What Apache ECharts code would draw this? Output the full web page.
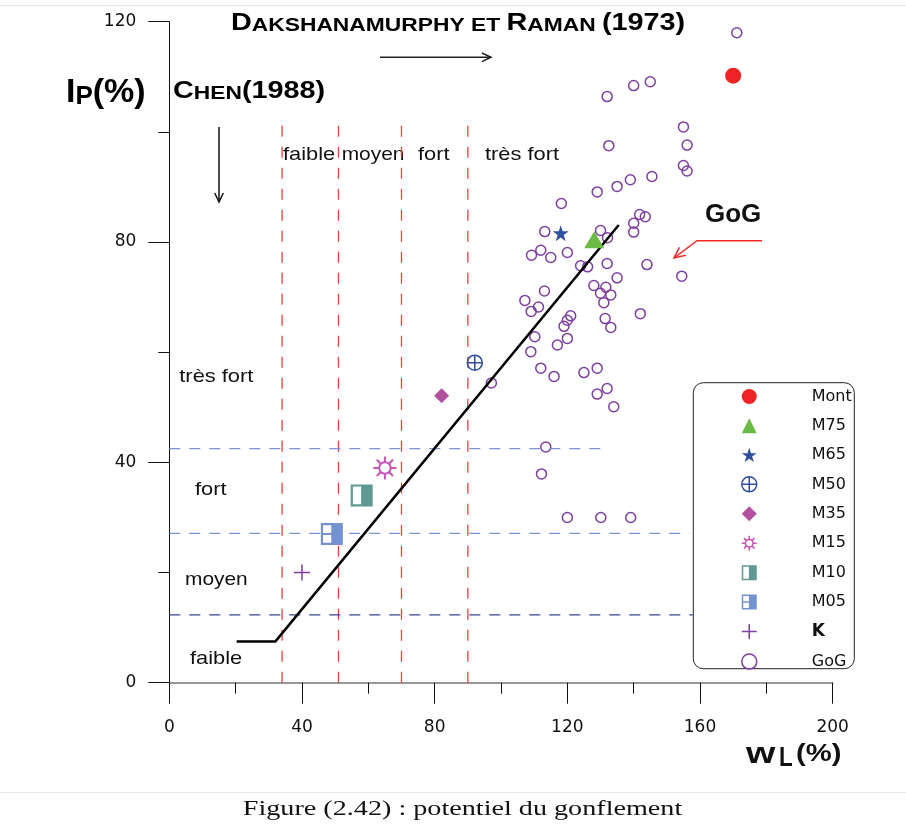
<!DOCTYPE html>
<html>
<head>
<meta charset="utf-8">
<script src="https://cdn.jsdelivr.net/npm/echarts@6.0.0/dist/echarts.min.js"></script>
<style>
html, body { margin: 0; padding: 0; background: #fff; }
#container { width: 906px; height: 836px; }
</style>
</head>
<body>
<div id="container"></div>
<script>
// echantillons (limite de liquidite wL, indice de plasticite Ip)
var sampleNames = ['Mont', 'M75', 'M65', 'M50', 'M35', 'M15', 'M10', 'M05', 'K'];
var sampleWl = [170, 128.1, 118, 92.1, 82.1, 65, 58, 49, 40];
var sampleIp = [110.2, 80.4, 81.6, 58.1, 52.1, 39, 34, 27, 20];

// nuage GoG
var gogWl = [171.1, 132.0, 140.0, 145.0, 155.0, 156.1, 132.5, 155.0, 156.1, 145.5, 139.0, 135.0, 129.0, 118.2, 141.8, 143.5,
    140.0, 140.0, 113.2, 130.0, 132.1, 112.0, 109.2, 115.0, 120.0, 124.0, 126.1, 132.0, 144.0, 135.0, 154.5, 128.0,
    131.6, 130.0, 133.1, 131.0, 113.1, 107.2, 111.3, 109.1, 142.0, 121.0, 120.0, 119.0, 131.4, 133.1, 110.2, 120.0,
    117.0, 109.0, 112.0, 116.0, 125.0, 129.0, 132.0, 129.0, 134.0, 97.1, 113.5, 112.2, 120.0, 130.1, 139.1];
var gogIp = [118.0, 106.4, 108.4, 109.1, 100.9, 97.6, 97.5, 93.9, 92.9, 91.9, 91.3, 90.1, 89.1, 87.0, 85.0, 84.6,
    83.4, 81.8, 81.9, 82.1, 80.8, 78.5, 77.6, 77.2, 78.1, 75.7, 75.5, 76.1, 75.9, 73.5, 73.8, 72.1,
    71.8, 70.7, 70.4, 69.0, 71.1, 69.4, 68.2, 67.4, 67.0, 66.6, 65.8, 64.7, 66.1, 64.5, 62.8, 62.5,
    61.3, 60.1, 57.1, 55.6, 56.3, 57.1, 53.4, 52.4, 50.1, 54.4, 42.8, 37.9, 30.0, 30.0, 30.0];

// ligne noire
var lineWl = [20.3, 32, 135.5];
var lineIp = [7.5, 7.5, 83.1];

// limites Dakshanamurphy (verticales) et Chen (horizontales)
var redLineWl = [34, 51, 70, 90];
var redLineTop = 102;
var blueLineIp = [42.5, 27.1, 12.3];
var blueLineEnd = [130.4, 156.9, 157.8];

var xTicks = [0, 200, 40];   // min, max, pas
var yTicks = [0, 120, 40];

var sampleColors = ['#ee2424', '#6dbb47', '#2f4f9f', '#2f4f9f', '#b0509e', '#c455b4', '#5f9994', '#7592d0', '#7e3f9e'];
var sampleSymbols = [
    'circle',
    'triangle',
    'path://M10,0 L12.4,7.2 L20,7.2 L13.8,11.7 L16.2,19 L10,14.5 L3.8,19 L6.2,11.7 L0,7.2 L7.6,7.2 Z',
    'path://M0,10 A10,10 0 1 1 20,10 A10,10 0 1 1 0,10 Z M10,0 L10,20 M0,10 L20,10',
    'diamond',
    'path://M15,10 A5,5 0 1 1 5,10 A5,5 0 1 1 15,10 Z M10,0 L10,5 M10,15 L10,20 M0,10 L5,10 M15,10 L20,10 M2.93,2.93 L6.46,6.46 M17.07,2.93 L13.54,6.46 M2.93,17.07 L6.46,13.54 M17.07,17.07 L13.54,13.54',
    'path://M0,0 L20,0 L20,20 L0,20 Z M2,2 L2,18 L9.5,18 L9.5,2 Z',
    'path://M0,0 L20,0 L20,20 L0,20 Z M2,2 L2,18 L9.5,18 L9.5,2 Z M2,9 L9.5,9 L9.5,11 L2,11 Z',
    'path://M10,0 L10,20 M0,10 L20,10'
];
var sampleSizes = [16, [20, 17], 16, 15, 15, 23, 22, 22, 16];
var hollow = [false, false, false, true, false, true, false, false, true];

var series = [];
// lignes rouges verticales
for (var i = 0; i < redLineWl.length; i++) {
    series.push({
        name: 'rouge' + i, type: 'line', silent: true, symbol: 'none', color: '#f03c3c',
        data: [[redLineWl[i], 0], [redLineWl[i], redLineTop]],
        lineStyle: { color: '#f03c3c', width: 1.3, type: [11, 10], opacity: 1 }
    });
}
// lignes bleues horizontales
for (var j = 0; j < blueLineIp.length; j++) {
    var bc = j == 2 ? '#34478f' : '#7f93d4';
    series.push({
        name: 'bleu' + j, type: 'line', silent: true, symbol: 'none', color: bc,
        data: [[0, blueLineIp[j]], [blueLineEnd[j], blueLineIp[j]]],
        lineStyle: { color: bc, width: 1.3, type: [11, 9], opacity: 1 }
    });
}
var lineData = [];
for (var k = 0; k < lineWl.length; k++) {
    lineData.push([lineWl[k], lineIp[k]]);
}
series.push({
    name: 'ligne', type: 'line', silent: true, symbol: 'none', data: lineData, color: '#000',
    lineStyle: { color: '#000', width: 2.5 }
});
var gogData = [];
for (var g = 0; g < gogWl.length; g++) {
    gogData.push([gogWl[g], gogIp[g]]);
}
series.push({
    name: 'GoG', type: 'scatter', symbol: 'circle', symbolSize: 10, data: gogData, color: '#7d3f9f',
    itemStyle: { color: 'rgba(0,0,0,0)', borderColor: '#7d3f9f', borderWidth: 1.5, opacity: 1 }
});
var legendData = [];
for (var s = 0; s < sampleNames.length; s++) {
    var st = hollow[s]
        ? { color: 'rgba(0,0,0,0)', borderColor: sampleColors[s], borderWidth: s == 5 ? 2 : 1.5, opacity: 1 }
        : { color: sampleColors[s], opacity: 1 };
    series.push({
        name: sampleNames[s], type: 'scatter', symbol: sampleSymbols[s], symbolSize: sampleSizes[s],
        data: [[sampleWl[s], sampleIp[s]]], itemStyle: st, z: 3
    });
    legendData.push(hollow[s]
        ? { name: sampleNames[s], itemStyle: { borderWidth: 1.5 } }
        : { name: sampleNames[s] });
}
legendData.push({ name: 'GoG', itemStyle: { borderWidth: 1.5 } });

function label(txt, x, y, size, sx, bold) {
    return {
        type: 'text', x: x, y: y, scaleX: sx || 1, silent: true,
        style: {
            text: txt, fill: '#111', fontSize: size, fontWeight: bold ? 'bold' : 'normal',
            fontFamily: 'Liberation Sans', align: 'left', verticalAlign: 'middle'
        }
    };
}
function arrow(points, color) {
    return { type: 'polyline', silent: true, shape: { points: points }, style: { stroke: color, lineWidth: 1.5, fill: null } };
}
var smallCaps = {
    c: { fontSize: 24, fontWeight: 'bold', fontFamily: 'Liberation Sans', fill: '#000', verticalAlign: 'bottom' },
    s: { fontSize: 19, fontWeight: 'bold', fontFamily: 'Liberation Sans', fill: '#000', verticalAlign: 'bottom' }
};

var graphics = [
    { type: 'line', silent: true, shape: { x1: 0, y1: 5.5, x2: 906, y2: 5.5 }, style: { stroke: '#e8e8e8', lineWidth: 1 } },
    { type: 'line', silent: true, shape: { x1: 0, y1: 792.5, x2: 906, y2: 792.5 }, style: { stroke: '#e8e8e8', lineWidth: 1 } },
    {
        type: 'text', x: 231, y: 23.4, scaleX: 1.2, silent: true,
        style: { text: '{c|D}{s|AKSHANAMURPHY ET }{c|R}{s|AMAN }{c|(1973)}', rich: smallCaps, verticalAlign: 'middle' }
    },
    {
        type: 'text', x: 173, y: 91.7, scaleX: 1.2, silent: true,
        style: { text: '{c|C}{s|HEN}{c|(1988)}', rich: smallCaps, verticalAlign: 'middle' }
    },
    {
        type: 'text', x: 66, y: 92.7, silent: true,
        style: {
            text: '{a|I}{b|P}{a|(%)}', verticalAlign: 'middle',
            rich: {
                a: { fontSize: 34, fontWeight: 'bold', fontFamily: 'Liberation Sans', fill: '#000', verticalAlign: 'bottom' },
                b: { fontSize: 26, fontWeight: 'bold', fontFamily: 'Liberation Sans', fill: '#000', verticalAlign: 'bottom' }
            }
        }
    },
    label('w', 746, 755, 29, 1.3, true),
    label('L', 779, 758.3, 28, 0.8, true),
    label('(%)', 796, 754.5, 23, 1.27, true),
    arrow([[380, 57.3], [491, 57.3]], '#222'),
    arrow([[482, 53], [491, 57.3], [482, 61.6]], '#222'),
    arrow([[219, 127], [219, 202]], '#111'),
    arrow([[214.7, 193], [219, 202], [223.3, 193]], '#111'),
    arrow([[762, 240.7], [697, 240.7], [674, 258]], '#ee2a2a'),
    arrow([[679.4, 247.3], [674, 258], [685.7, 255.3]], '#ee2a2a'),
    label('GoG', 705, 215.6, 25, 1.04, true),
    label('faible', 283, 154.7, 19, 1.15),
    label('moyen', 341.7, 154.7, 19, 1.1),
    label('fort', 418, 154.7, 19, 1.15),
    label('très fort', 485, 154.7, 19, 1.15),
    label('très fort', 179.3, 376.7, 19, 1.15),
    label('fort', 195, 489.4, 19, 1.15),
    label('moyen', 185, 579.4, 19, 1.1),
    label('faible', 190, 658.4, 19, 1.15),
    {
        type: 'rect', silent: true, shape: { x: 693.3, y: 382.7, width: 161, height: 286, r: 10 },
        style: { fill: null, stroke: '#222', lineWidth: 1 }
    },
    {
        type: 'text', x: 462.5, y: 809.2, scaleX: 1.28, silent: true,
        style: {
            text: 'Figure (2.42) : potentiel du gonflement', fill: '#111', fontSize: 22,
            fontFamily: 'Liberation Serif', align: 'center', verticalAlign: 'middle'
        }
    }
];

var dom = document.getElementById('container');
var myChart = echarts.init(dom);
var option = {
    animation: false,
    backgroundColor: '#fff',
    grid: { left: 169.3, right: 73.3, top: 21.7, bottom: 153.3, outerBoundsMode: 'none' },
    xAxis: {
        type: 'value', min: xTicks[0], max: xTicks[1], interval: xTicks[2],
        axisLine: { onZero: false, lineStyle: { color: '#777', width: 1.5 } },
        axisTick: { length: 21, lineStyle: { color: '#111' } },
        minorTick: { show: true, splitNumber: 2, length: 11, lineStyle: { color: '#111' } },
        splitLine: { show: false },
        axisLabel: { margin: 36, fontSize: 17, fontFamily: 'DejaVu Sans', color: '#111' }
    },
    yAxis: {
        type: 'value', min: yTicks[0], max: yTicks[1], interval: yTicks[2],
        axisLine: { onZero: false, lineStyle: { color: '#111', width: 1 } },
        axisTick: { length: 21, lineStyle: { color: '#111' } },
        minorTick: { show: true, splitNumber: 2, length: 11, lineStyle: { color: '#111' } },
        splitLine: { show: false },
        axisLabel: { margin: 33, fontSize: 17, fontFamily: 'DejaVu Sans', color: '#111' }
    },
    legend: {
        data: legendData,
        orient: 'vertical', left: 741, top: 388.5, padding: 0,
        itemWidth: 15, itemHeight: 15, itemGap: 13.2, selectedMode: false,
        formatter: function (name) {
            return name == 'K' ? '{b|K}' : '{t|' + name + '}';
        },
        textStyle: {
            rich: {
                t: { fontSize: 16, fontFamily: 'DejaVu Sans', color: '#111', padding: [0, 0, 0, 50] },
                b: { fontSize: 17, fontWeight: 'bold', fontFamily: 'DejaVu Sans', color: '#111', padding: [0, 0, 0, 50] }
            }
        }
    },
    graphic: graphics,
    series: series
};
myChart.setOption(option);
</script>
</body>
</html>
